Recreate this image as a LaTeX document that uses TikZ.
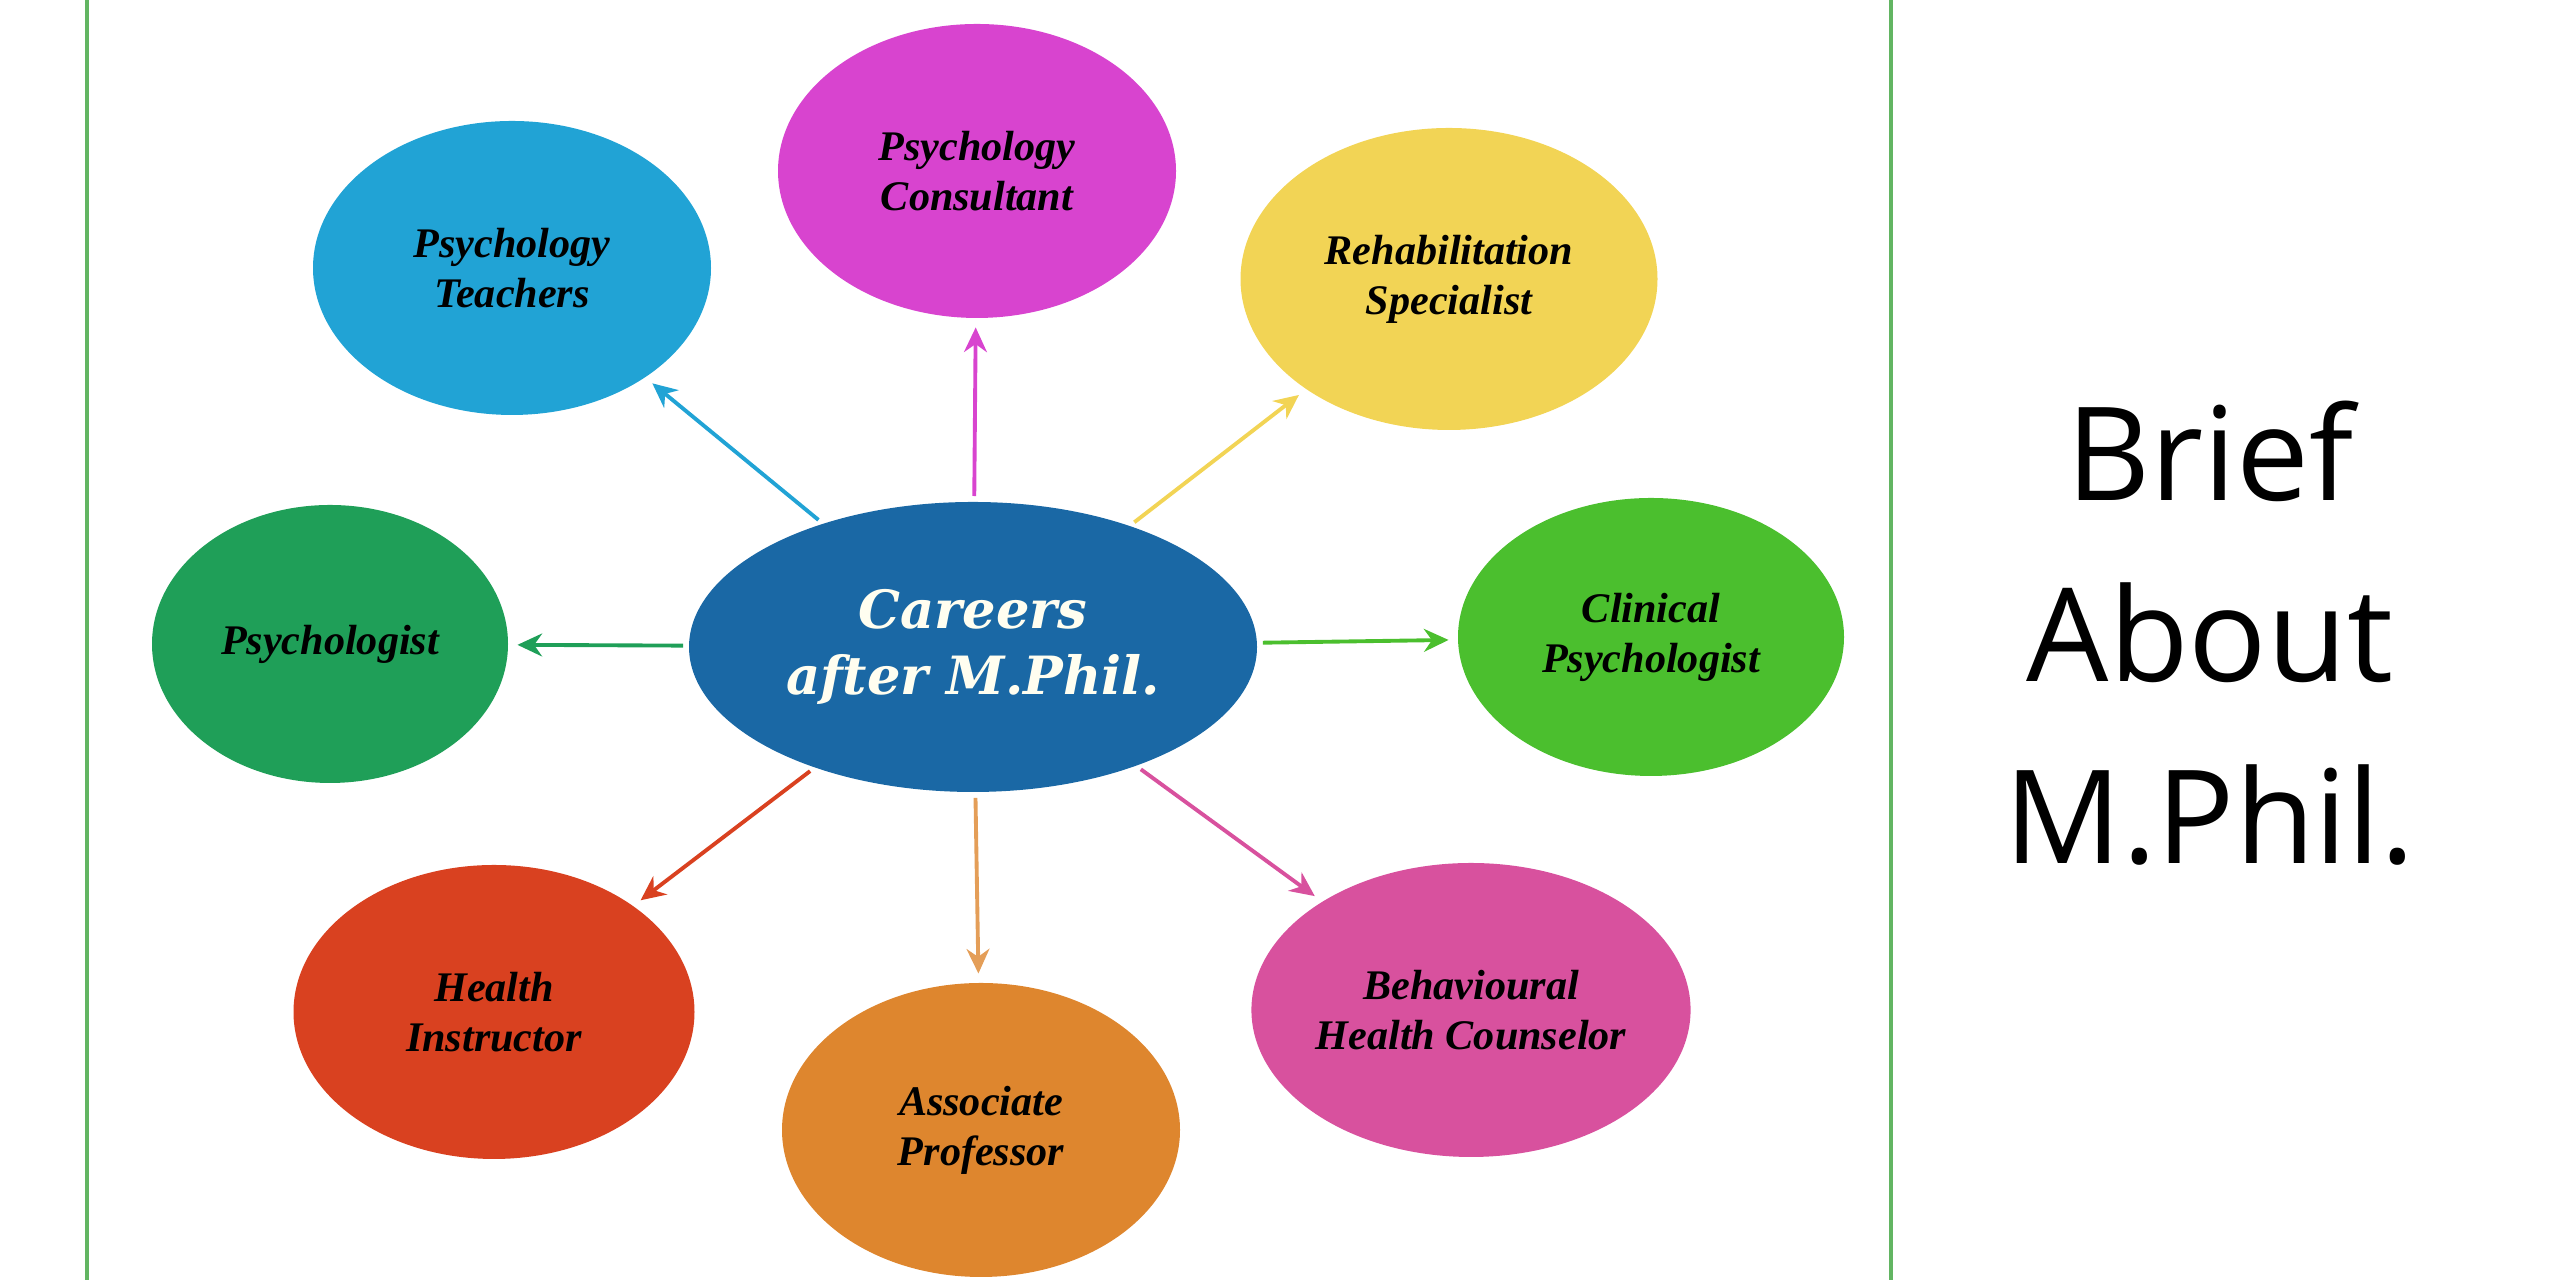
\documentclass[tikz,border=0pt]{standalone}
\usepackage{fontspec}
\usepackage{tikz}
\usetikzlibrary{arrows.meta, shapes.geometric}
\newfontfamily\jobfont{Liberation Serif}
\newfontfamily\hubfont{DejaVu Serif}
\newfontfamily\sidefont{Open Sans}
\definecolor{hubblue}{HTML}{1A68A5}
\definecolor{tchblue}{HTML}{21A3D5}
\definecolor{cnsmag}{HTML}{D844CF}
\definecolor{rehyel}{HTML}{F2D455}
\definecolor{psygreen}{HTML}{1F9F58}
\definecolor{clngreen}{HTML}{4BBF2E}
\definecolor{hltred}{HTML}{D94120}
\definecolor{ascorange}{HTML}{DE862E}
\definecolor{bhvpink}{HTML}{D8519E}
\definecolor{framegreen}{HTML}{62B562}

\begin{document}
\begin{tikzpicture}[
        job/.style={ellipse, inner sep=0pt, align=center,
                    minimum width=3.98cm, minimum height=2.94cm,
                    font=\jobfont\bfseries\itshape\fontsize{12}{14.2}\selectfont},
        hub/.style={ellipse, inner sep=0pt, align=center, fill=hubblue,
                    minimum width=5.68cm, minimum height=2.90cm, text=white!94!yellow,
                    font=\hubfont\bfseries\itshape\fontsize{15}{19}\selectfont},
        arr/.style={-{Stealth[length=7pt, width=6.5pt]}, line width=1.1pt,
                    shorten >=2.5pt, shorten <=1.5pt},
    ]
    \useasboundingbox (0,0) rectangle (25.6,12.8);

    % frame
    \draw[framegreen, line width=0.9pt] (0.87,0) -- (0.87,12.8);
    \draw[framegreen, line width=0.9pt] (18.91,0) -- (18.91,12.8);

    \node[hub] (hub) at (9.73,6.33) {Careers\\after M.Phil.};

    \node[job, fill=tchblue] (tch) at (5.12,10.12) {Psychology\\Teachers};
    \node[job, fill=cnsmag] (cns) at (9.77,11.09) {Psychology\\Consultant};
    \node[job, fill=rehyel, minimum width=4.17cm, minimum height=3.02cm] (reh) at (14.49,10.01) {Rehabilitation\\Specialist};
    \node[job, fill=psygreen, minimum width=3.56cm, minimum height=2.78cm] (psy) at (3.30,6.36) {Psychologist};
    \node[job, fill=clngreen, minimum width=3.86cm, minimum height=2.78cm] (cln) at (16.51,6.43) {Clinical\\Psychologist};
    \node[job, fill=hltred, minimum width=4.01cm] (hlt) at (4.94,2.68) {Health\\Instructor};
    \node[job, fill=ascorange] (asc) at (9.81,1.50) {Associate\\Professor};
    \node[job, fill=bhvpink, minimum width=4.26cm] (bhv) at (14.71,2.70) {Behavioural\\Health Counselor};

    \draw[arr, tchblue]   (hub) -- (tch);
    \draw[arr, cnsmag]    (hub) -- (cns);
    \draw[arr, rehyel]    (hub) -- (reh);
    \draw[arr, psygreen]  (hub) -- (psy);
    \draw[arr, clngreen]  (hub) -- (cln);
    \draw[arr, hltred]    (hub) -- (hlt);
    \draw[arr, ascorange!80!white] (hub) -- (asc);
    \draw[arr, bhvpink]   (hub) -- (bhv);

    \node[align=center, font=\sidefont\fontsize{37}{51.6}\selectfont] (brief) at (22.1,6.47) {Brief\\About\\M.Phil.};
\end{tikzpicture}
\end{document}
